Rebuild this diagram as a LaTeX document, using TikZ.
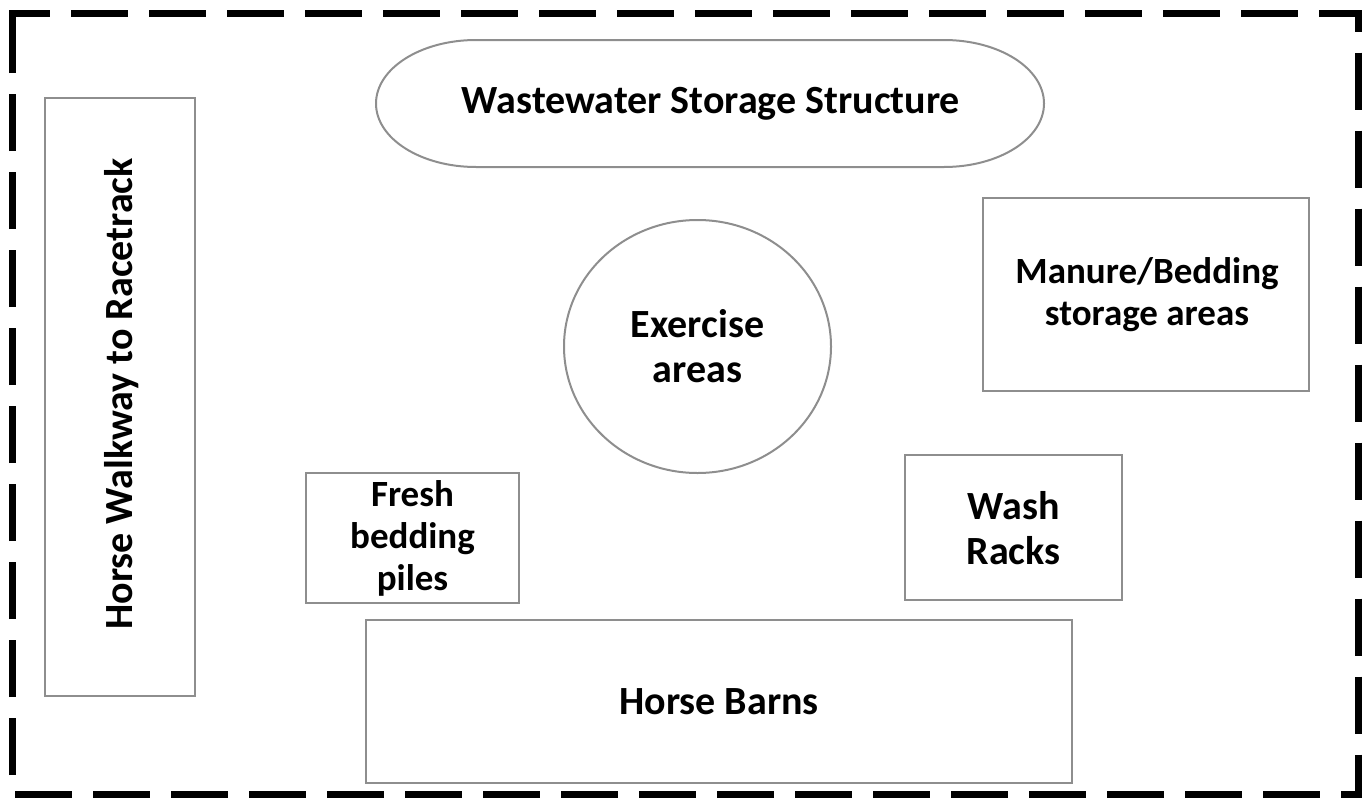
\documentclass[tikz,border=0pt]{standalone}
\usepackage{fontspec}
\setmainfont{Carlito}
\usetikzlibrary{shapes.geometric}
\definecolor{edgegray}{HTML}{8E8E8E}
\tikzset{
  area/.style={draw=edgegray, line width=2pt},
  lbl/.style={font=\fontsize{40}{45}\selectfont\bfseries, align=center, inner sep=0pt, text=black},
  lblsmall/.style={lbl, font=\fontsize{37}{42}\selectfont\bfseries},
  border/.style={line width=7pt, dash pattern=on 57pt off 21pt},
}
\begin{document}
\begin{tikzpicture}[x=1pt,y=-1pt]
\useasboundingbox (0,0) rectangle (1364,798);
% outer dashed boundary
\draw[border] (12.5,33) -- (12.5,13.5) -- (1358,13.5) -- (1358,794) -- (12.5,794) -- cycle;
% Wastewater storage structure
\draw[area] (476,40) -- (944,40) arc[start angle=-90,end angle=90,x radius=100,y radius=63.5]
  -- (476,167) arc[start angle=90,end angle=270,x radius=100,y radius=63.5] -- cycle;
\node[lbl] (wss) at (711,104) {Wastewater Storage Structure};
% Horse walkway
\draw[area] (45,98) rectangle (195,696);
\node[lbl, rotate=90] (walk) at (122,394) {Horse Walkway to Racetrack};
% Exercise areas
\draw[area] (697.5,346.5) ellipse[x radius=133.5, y radius=126.5];
\node[lbl] (ex) at (697.5,346) {Exercise\\areas};
% Manure/Bedding
\draw[area] (983,198) rectangle (1309,391);
\node[lblsmall] (man) at (1147,295) {Manure/Bedding\\storage areas};
% Fresh bedding piles
\draw[area] (306,473) rectangle (519,603);
\node[lblsmall] (fresh) at (412.5,538) {Fresh\\bedding\\piles};
% Wash racks
\draw[area] (905,455) rectangle (1122,600);
\node[lbl] (wash) at (1013.5,528) {Wash\\Racks};
% Horse barns
\draw[area] (366,620) rectangle (1072,783);
\node[lbl] (barns) at (719,702) {Horse Barns};
\end{tikzpicture}
\end{document}
